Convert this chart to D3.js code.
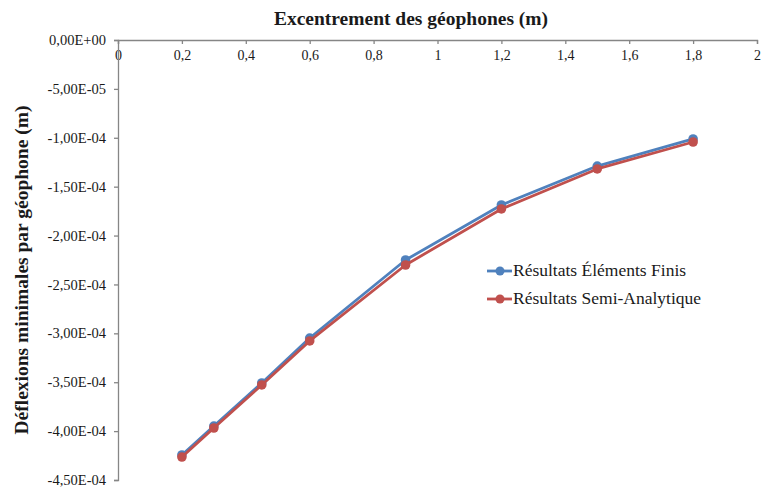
<!DOCTYPE html>
<html><head><meta charset="utf-8">
<script src="https://cdn.jsdelivr.net/npm/d3@7"></script>
<style>body{margin:0;background:#fff}svg{display:block}text{font-family:"Liberation Serif","DejaVu Serif",serif;fill:#1a1a1a}</style>
</head><body><svg id="c" width="765" height="488"></svg>
<script>
const xValues = [0.2, 0.3, 0.45, 0.6, 0.9, 1.2, 1.5, 1.8];
const elementsFinis = [-4.244e-4, -3.948e-4, -3.508e-4, -3.048e-4, -2.250e-4, -1.687e-4, -1.289e-4, -1.012e-4];
const semiAnalytique = [-4.265e-4, -3.968e-4, -3.528e-4, -3.078e-4, -2.301e-4, -1.728e-4, -1.319e-4, -1.043e-4];
const seriesNames = ["Résultats Éléments Finis", "Résultats Semi-Analytique"];
const xTickValues = [0, 0.2, 0.4, 0.6, 0.8, 1, 1.2, 1.4, 1.6, 1.8, 2];
const xTickLabels = ["0", "0,2", "0,4", "0,6", "0,8", "1", "1,2", "1,4", "1,6", "1,8", "2"];
const yTickValues = [0, -5e-5, -1e-4, -1.5e-4, -2e-4, -2.5e-4, -3e-4, -3.5e-4, -4e-4, -4.5e-4];
const yTickLabels = ["0,00E+00", "-5,00E-05", "-1,00E-04", "-1,50E-04", "-2,00E-04", "-2,50E-04", "-3,00E-04", "-3,50E-04", "-4,00E-04", "-4,50E-04"];
const xTitle = "Excentrement des géophones (m)";
const yTitle = "Déflexions minimales par géophone (m)";

const colors = ["#4F81BD", "#C0504D"];
const axisColor = "#868686";
const svg = d3.select("#c");
const x = d3.scaleLinear().domain([0, 2]).range([118, 757]);
const y = d3.scaleLinear().domain([0, -4.5e-4]).range([40, 480]);

const xAxis = d3.axisBottom(x).tickValues(xTickValues).tickSize(4).tickPadding(6)
  .tickFormat((d, i) => xTickLabels[i]);
const gx = svg.append("g").attr("transform", `translate(0,${y(0)})`).call(xAxis);
gx.select(".domain").attr("stroke", axisColor).attr("stroke-width", 1.3);
gx.selectAll(".tick line").attr("stroke", axisColor).attr("stroke-width", 1.3);
gx.selectAll(".tick text").style("font-size", "14px").attr("fill", "#222");

const yAxis = d3.axisLeft(y).tickValues(yTickValues).tickSize(4).tickPadding(8)
  .tickFormat((d, i) => yTickLabels[i]);
const gy = svg.append("g").attr("transform", `translate(${x(0)},0)`).call(yAxis);
gy.select(".domain").attr("stroke", axisColor).attr("stroke-width", 1.3);
gy.selectAll(".tick line").attr("stroke", axisColor).attr("stroke-width", 1.3);
gy.selectAll(".tick text").style("font-size", "14.5px").attr("fill", "#222");

svg.append("text").attr("x", 411).attr("y", 25).attr("text-anchor", "middle")
  .style("font-size", "19.5px").attr("font-weight", "bold").text(xTitle);
svg.append("text").attr("transform", "translate(28,270) rotate(-90)").attr("text-anchor", "middle")
  .style("font-size", "19.5px").attr("font-weight", "bold").text(yTitle);

const series = [elementsFinis, semiAnalytique];
const line = d3.line().x((d, i) => x(xValues[i])).y(d => y(d));
series.forEach((s, k) => {
  svg.append("path").datum(s).attr("d", line).attr("fill", "none")
    .attr("stroke", colors[k]).attr("stroke-width", 2.8).attr("stroke-linejoin", "round");
  svg.append("g").selectAll("circle").data(s).join("circle")
    .attr("cx", (d, i) => x(xValues[i])).attr("cy", d => y(d)).attr("r", 4.8)
    .attr("fill", colors[k]);
});

const legY = [271, 299];
seriesNames.forEach((n, k) => {
  const g = svg.append("g");
  g.append("line").attr("x1", 487).attr("x2", 512).attr("y1", legY[k]).attr("y2", legY[k])
    .attr("stroke", colors[k]).attr("stroke-width", 2.8);
  g.append("circle").attr("cx", 500).attr("cy", legY[k]).attr("r", 4.5).attr("fill", colors[k]);
  g.append("text").attr("x", 513).attr("y", legY[k] + 5).style("font-size", "17.5px").text(n);
});
</script></body></html>
